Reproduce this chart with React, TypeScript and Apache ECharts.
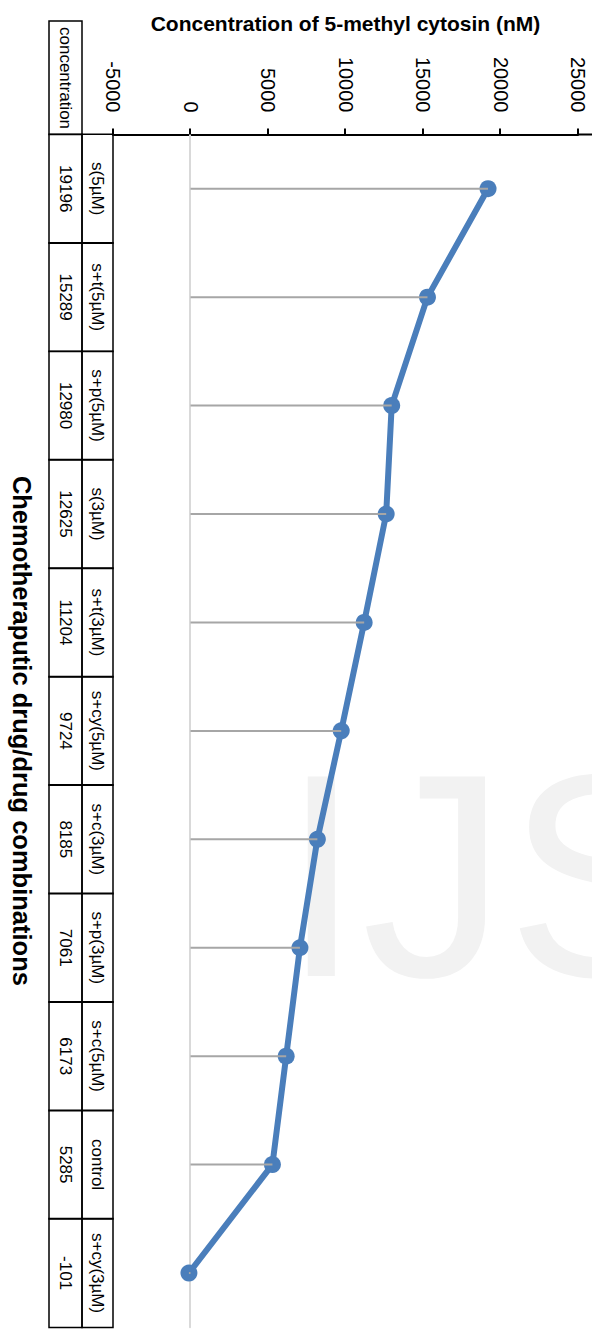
import React, { useEffect, useRef } from "react";
import * as echarts from "echarts";

const categories = [
  "s(5µM)", "s+t(5µM)", "s+p(5µM)", "s(3µM)", "s+t(3µM)", "s+cy(5µM)",
  "s+c(3µM)", "s+p(3µM)", "s+c(5µM)", "control", "s+cy(3µM)",
];
const concentration = [19196, 15289, 12980, 12625, 11204, 9724, 8185, 7061, 6173, 5285, -101];
const valueMin = -5000;
const valueMax = 25000;
const valueInterval = 5000;
const tableHeader = "concentration";
const valueAxisTitle = "Concentration of 5-methyl cytosin (nM)";
const categoryAxisTitle = "Chemotheraputic drug/drug combinations";
const watermark = "IJS";

const FONT = "'Liberation Sans', Arial, sans-serif";
const W = 1331;
const H = 592;

export default function App() {
  const ref = useRef<HTMLDivElement>(null);
  useEffect(() => {
    if (!ref.current) return;
    const chart = echarts.init(ref.current, undefined, { renderer: "svg" });
    const colW = 1198 / categories.length;
    const option: any = {
      animation: false,
      backgroundColor: "#ffffff",
      textStyle: { fontFamily: FONT },
      grid: { left: 134.5, top: 14, width: 1198, height: 465, containLabel: false },
      xAxis: [
        {
          type: "category",
          data: categories,
          boundaryGap: true,
          axisLine: { show: true, onZero: true, lineStyle: { color: "#d9d9d9", width: 2 } },
          axisTick: { show: false },
          axisLabel: { show: false },
          splitLine: { show: false },
        },
        {
          type: "category",
          data: categories,
          position: "bottom",
          boundaryGap: true,
          axisLine: { show: false, onZero: false },
          axisTick: { show: false },
          splitLine: { show: false },
          axisLabel: {
            interval: 0,
            margin: 0,
            hideOverlap: false,
            formatter: (name: string, idx: number) => `{n|${name}}\n{v|${concentration[idx]}}`,
            rich: {
              n: {
                width: colW, height: 31, align: "center", verticalAlign: "middle",
                borderColor: "#000", borderWidth: 1.5, fontSize: 17, color: "#000", fontFamily: FONT,
              },
              v: {
                width: colW, height: 33, align: "center", verticalAlign: "middle",
                borderColor: "#000", borderWidth: 1.5, fontSize: 17, color: "#000", fontFamily: FONT,
              },
            },
          },
          name: categoryAxisTitle,
          nameLocation: "middle",
          nameGap: 78,
          nameTextStyle: { fontSize: 25.5, fontWeight: "bold", color: "#000", fontFamily: FONT },
        },
      ],
      yAxis: {
        type: "value",
        min: valueMin,
        max: valueMax,
        interval: valueInterval,
        axisLine: { show: true, lineStyle: { color: "#000", width: 2 } },
        axisTick: { show: true, length: 6, lineStyle: { color: "#000", width: 2 } },
        axisLabel: {
          margin: 22,
          fontSize: 20,
          color: "#000",
          fontFamily: FONT,
          formatter: (v: number) => String(v),
        },
        splitLine: { show: false },
        name: valueAxisTitle,
        nameLocation: "middle",
        nameRotate: 90,
        nameGap: 101,
        nameTextStyle: { fontSize: 21, fontWeight: "bold", color: "#000", fontFamily: FONT },
      },
      series: [
        {
          type: "line",
          data: concentration,
          xAxisIndex: 0,
          symbol: "circle",
          symbolSize: 17,
          lineStyle: { color: "#4a7ebb", width: 6 },
          itemStyle: { color: "#4a7ebb" },
          z: 3,
        },
        {
          type: "bar",
          data: concentration,
          xAxisIndex: 0,
          barWidth: 2,
          itemStyle: { color: "#a6a6a6" },
          z: 4,
          silent: true,
        },
      ],
      graphic: [
        {
          type: "text",
          x: 875,
          y: 311,
          rotation: Math.PI / 2,
          z: -10,
          silent: true,
          style: {
            text: watermark,
            fontSize: 290,
            fontFamily: FONT,
            fill: "#f2f2f2",
            align: "left",
            verticalAlign: "middle",
          },
        },
        {
          type: "line",
          shape: { x1: 134.5, y1: 0, x2: 134.5, y2: 14 },
          style: { stroke: "#000", lineWidth: 2 },
        },
        {
          type: "rect",
          shape: { x: 21, y: 510, width: 113.5, height: 33 },
          style: { fill: "none", stroke: "#000", lineWidth: 1.5 },
        },
        {
          type: "text",
          x: 78,
          y: 527,
          style: {
            text: tableHeader,
            fontSize: 17,
            fontFamily: FONT,
            fill: "#000",
            align: "center",
            verticalAlign: "middle",
          },
        },
      ],
    };
    chart.setOption(option);
    return () => chart.dispose();
  }, []);

  return (
    <div style={{ position: "absolute", left: 0, top: 0, width: H, height: W, overflow: "hidden", background: "#fff" }}>
      <div
        ref={ref}
        style={{
          position: "absolute",
          left: 0,
          top: 0,
          width: W,
          height: H,
          transformOrigin: "0 0",
          transform: `translateX(${H}px) rotate(90deg)`,
        }}
      />
    </div>
  );
}
